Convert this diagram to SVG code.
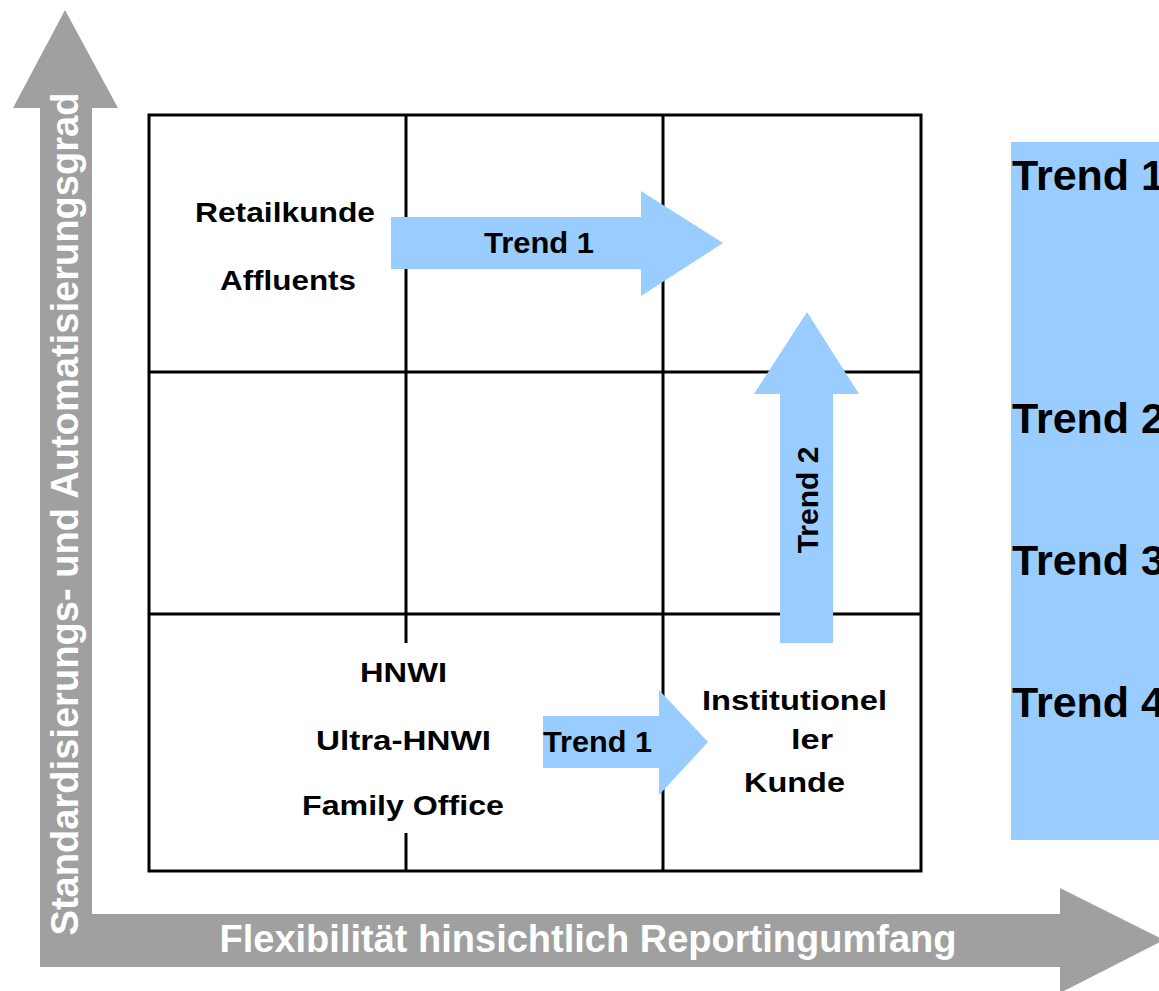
<svg xmlns="http://www.w3.org/2000/svg" width="1159" height="991" viewBox="0 0 1159 991">
  <style>
    .lbl { font-family: "Liberation Sans", Arial, Helvetica, sans-serif; font-weight: bold; fill: #000; }
    .axis { font-family: "Liberation Sans", Arial, Helvetica, sans-serif; font-weight: bold; fill: #fff; font-size: 38px; }
    .grid { fill: none; stroke: #000; stroke-width: 3; }
    .blue { fill: #99CCFF; }
    .gray { fill: #A0A0A0; }
  </style>
  <rect width="1159" height="991" fill="#fff"/>

  <g id="axes">
    <path class="gray" d="M40,967 L40,108 L13,108 L65,10 L118,108 L92,108 L92,914 L1060,914 L1060,888 L1164,940 L1060,993 L1060,967 Z"/>
    <text class="axis" transform="translate(78,514) rotate(-90)" text-anchor="middle" textLength="843" lengthAdjust="spacingAndGlyphs">Standardisierungs- und Automatisierungsgrad</text>
    <text class="axis" x="588" y="952" text-anchor="middle" textLength="737" lengthAdjust="spacingAndGlyphs">Flexibilität hinsichtlich Reportingumfang</text>
  </g>

  <g id="grid">
    <rect class="grid" x="149" y="115" width="772" height="756"/>
    <line class="grid" x1="406" y1="115" x2="406" y2="643"/>
    <line class="grid" x1="406" y1="833" x2="406" y2="871"/>
    <line class="grid" x1="663" y1="115" x2="663" y2="871"/>
    <line class="grid" x1="149" y1="372" x2="921" y2="372"/>
    <line class="grid" x1="149" y1="614" x2="921" y2="614"/>
  </g>

  <g id="legend">
    <rect class="blue" x="1011" y="142" width="160" height="698"/>
    <text class="lbl" x="1012" y="190" font-size="43">Trend 1</text>
    <text class="lbl" x="1012" y="433" font-size="43">Trend 2</text>
    <text class="lbl" x="1012" y="575" font-size="43">Trend 3</text>
    <text class="lbl" x="1012" y="717" font-size="43">Trend 4</text>
  </g>

  <g id="node-retail">
    <text class="lbl" x="195" y="222" font-size="28" textLength="180" lengthAdjust="spacingAndGlyphs">Retailkunde</text>
    <text class="lbl" x="220" y="290" font-size="28" textLength="136" lengthAdjust="spacingAndGlyphs">Affluents</text>
  </g>

  <g id="node-hnwi">
    <text class="lbl" x="360" y="682" font-size="28" textLength="87" lengthAdjust="spacingAndGlyphs">HNWI</text>
    <text class="lbl" x="316" y="750" font-size="28" textLength="175" lengthAdjust="spacingAndGlyphs">Ultra-HNWI</text>
    <text class="lbl" x="302" y="815" font-size="28" textLength="202" lengthAdjust="spacingAndGlyphs">Family Office</text>
  </g>

  <g id="node-institutionell">
    <text class="lbl" x="702" y="710" font-size="28" textLength="185" lengthAdjust="spacingAndGlyphs">Institutionel</text>
    <text class="lbl" x="791" y="749" font-size="28" textLength="42" lengthAdjust="spacingAndGlyphs">ler</text>
    <text class="lbl" x="744" y="792" font-size="28" textLength="101" lengthAdjust="spacingAndGlyphs">Kunde</text>
  </g>

  <g id="connectors">
    <g id="trend1-top">
      <polygon class="blue" points="391,217 641,217 641,191 723,243 641,296 641,269 391,269"/>
      <text class="lbl" x="484" y="253" font-size="30" textLength="110" lengthAdjust="spacingAndGlyphs">Trend 1</text>
    </g>
    <g id="trend1-bottom">
      <polygon class="blue" points="543,716 659,716 659,690 708,742 659,795 659,768 543,768"/>
      <text class="lbl" x="543" y="752" font-size="30" textLength="109" lengthAdjust="spacingAndGlyphs">Trend 1</text>
    </g>
    <g id="trend2">
      <polygon class="blue" points="780,643 780,394 754,394 807,312 859,394 833,394 833,643"/>
      <text class="lbl" transform="translate(818,500) rotate(-90)" text-anchor="middle" font-size="30">Trend 2</text>
    </g>
  </g>
</svg>
